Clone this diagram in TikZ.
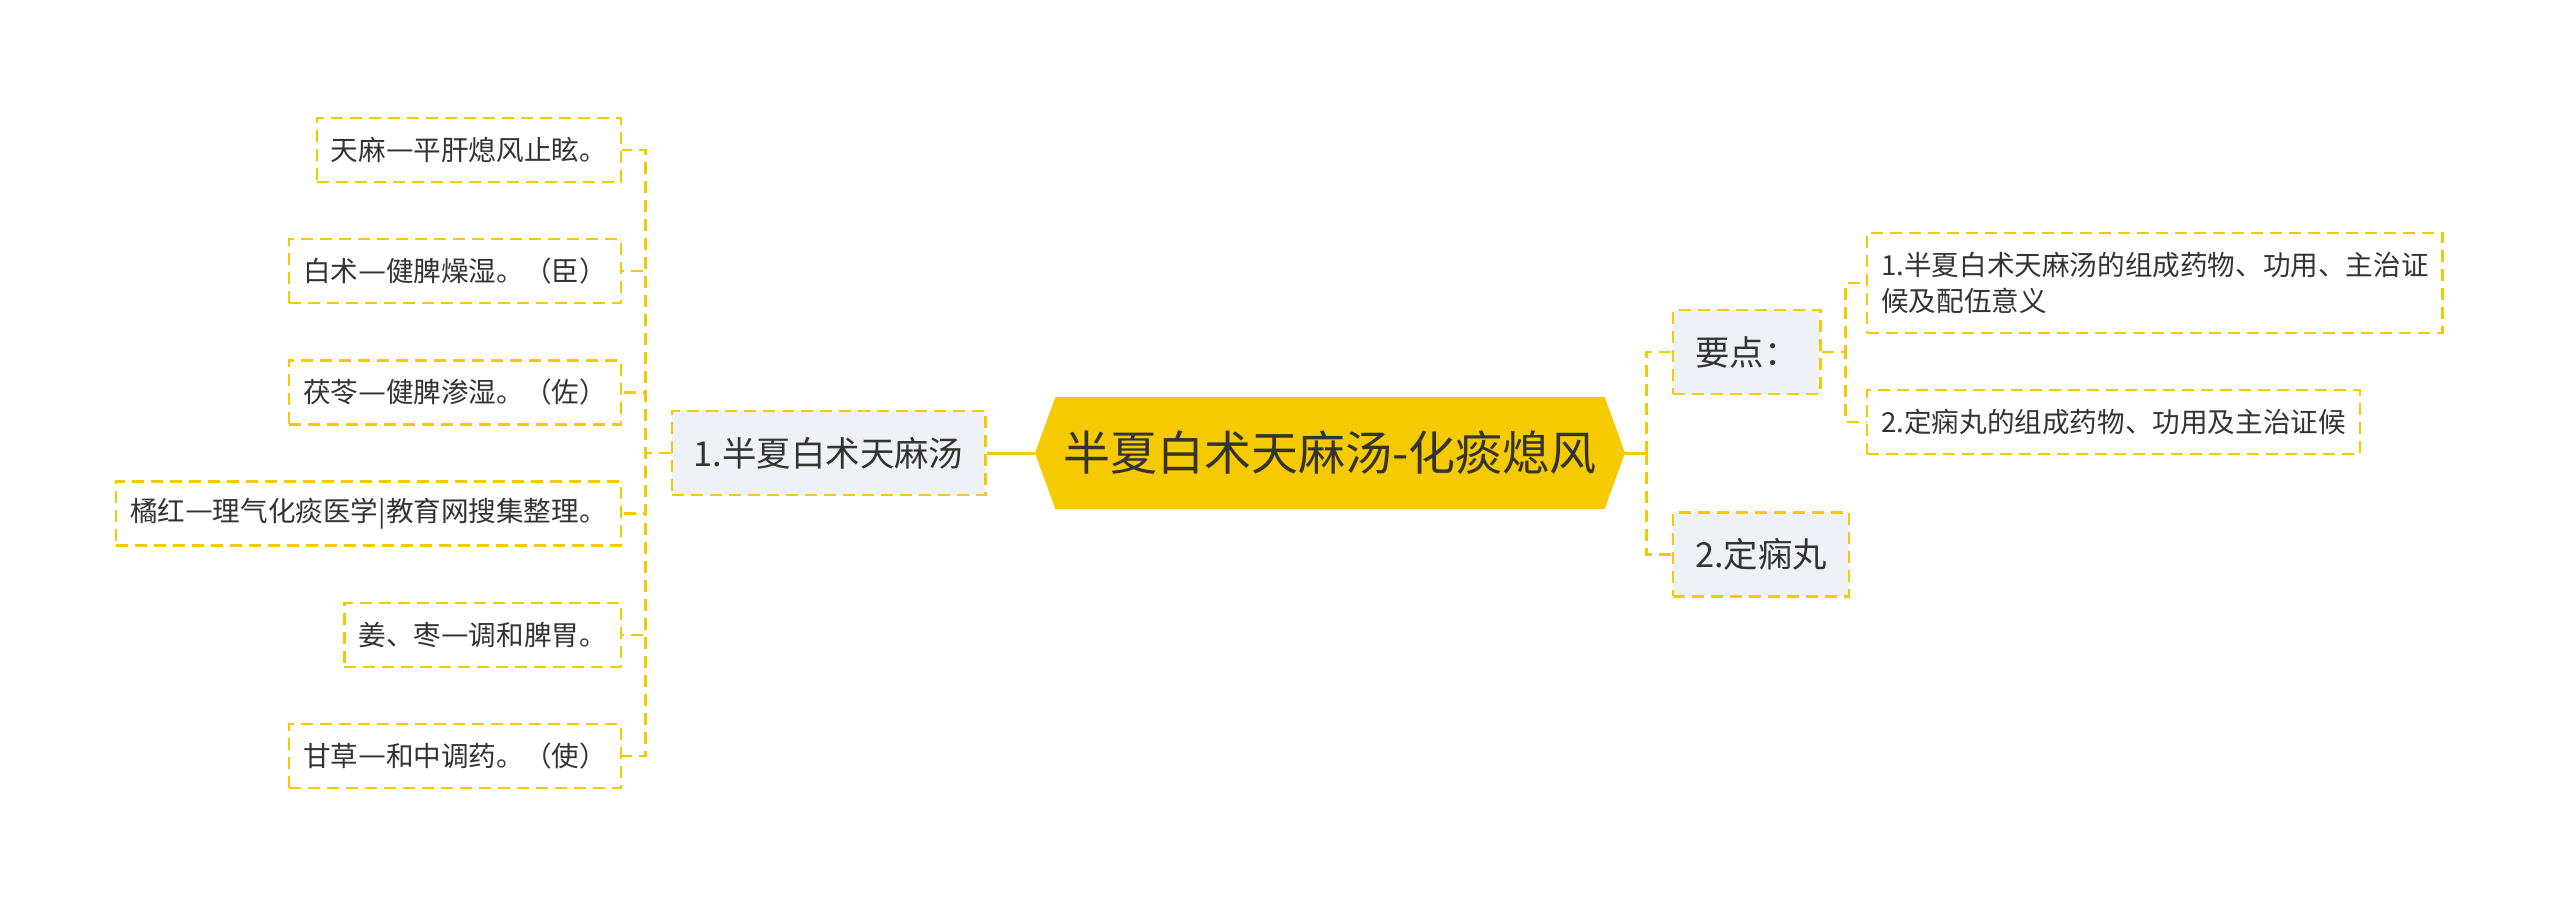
\documentclass[tikz,border=0pt]{standalone}
\usepackage{fontspec}
\setmainfont{Noto Sans CJK SC}
\newfontfamily\widedash{DejaVu Sans}
\newcommand{\herbdash}{{\widedash\raisebox{0.06em}{—}}}
\usepackage{xcolor}
\usetikzlibrary{positioning, shapes.symbols}

\definecolor{mapyellow}{HTML}{F5CA00}
\definecolor{topicgray}{HTML}{EEF1F5}
\definecolor{inkgray}{HTML}{333333}

\begin{document}
\begin{tikzpicture}[
        x=0.5pt, y=-0.5pt,
        every node/.style={text=inkgray},
        hub/.style={signal, signal to=west and east, signal pointer angle=140, fill=mapyellow, minimum height=56pt, inner xsep=4pt, font=\fontsize{23.5pt}{28pt}\selectfont},
        topic/.style={draw=mapyellow, fill=topicgray, dashed, dash pattern=on 6pt off 3.5pt, line width=1.2pt, minimum height=42pt, inner xsep=11pt, inner ysep=0pt, font=\fontsize{17.2pt}{20pt}\selectfont},
        leaf/.style={draw=mapyellow, dash pattern=on 6pt off 3.5pt, line width=1.2pt, minimum height=32pt, inner xsep=7pt, inner ysep=0pt, align=left, font=\fontsize{13.8pt}{18pt}\selectfont},
        link/.style={draw=mapyellow, line width=1.2pt, dash pattern=on 6pt off 3.5pt},
        trunk/.style={draw=mapyellow, line width=1.5pt}
    ]

    \useasboundingbox (0,0) rectangle (2560,907);

    \node[hub] (center) at (1330,453) {半夏白术天麻汤-化痰熄风};

    \node[topic, left=24pt of center] (fangji) {1.半夏白术天麻汤};

    \node[leaf, anchor=east] (tianma) at (622,150) {天麻\herbdash 平肝熄风止眩。};
    \node[leaf, below=27.4pt of tianma.south east, anchor=north east] (baizhu) {白术\herbdash 健脾燥湿。（臣）};
    \node[leaf, below=27.4pt of baizhu.south east, anchor=north east] (fuling) {茯苓\herbdash 健脾渗湿。（佐）};
    \node[leaf, below=27.4pt of fuling.south east, anchor=north east] (juhong) {橘红\herbdash 理气化痰医学|教育网搜集整理。};
    \node[leaf, below=27.4pt of juhong.south east, anchor=north east] (jiangzao) {姜、枣\herbdash 调和脾胃。};
    \node[leaf, below=27.4pt of jiangzao.south east, anchor=north east] (gancao) {甘草\herbdash 和中调药。（使）};

    \node[topic, anchor=west] (yaodian) at (1672,352) {要点：};
    \node[topic, below=58pt of yaodian.south west, anchor=north west] (dingxian) {2.定痫丸};

    \node[leaf, anchor=west, minimum height=50pt] (goal1) at (1866,283) {1.半夏白术天麻汤的组成药物、功用、主治证\\候及配伍意义};
    \node[leaf, below=27.3pt of goal1.south west, anchor=north west] (goal2) {2.定痫丸的组成药物、功用及主治证候};

    \draw[trunk] (center.west) -- (fangji.east);
    \draw[trunk] (center.east) -- ++(21,0);

    \foreach \leafname in {tianma, baizhu, fuling, juhong, jiangzao, gancao}
        \draw[link] (fangji.west) -- ++(-25,0) |- (\leafname.east);

    \draw[link] (center.east) ++(21,0) |- (yaodian.west);
    \draw[link] (center.east) ++(21,0) |- (dingxian.west);

    \draw[link] (yaodian.east) -- ++(24,0) |- (goal1.west);
    \draw[link] (yaodian.east) -- ++(24,0) |- (goal2.west);

\end{tikzpicture}
\end{document}
